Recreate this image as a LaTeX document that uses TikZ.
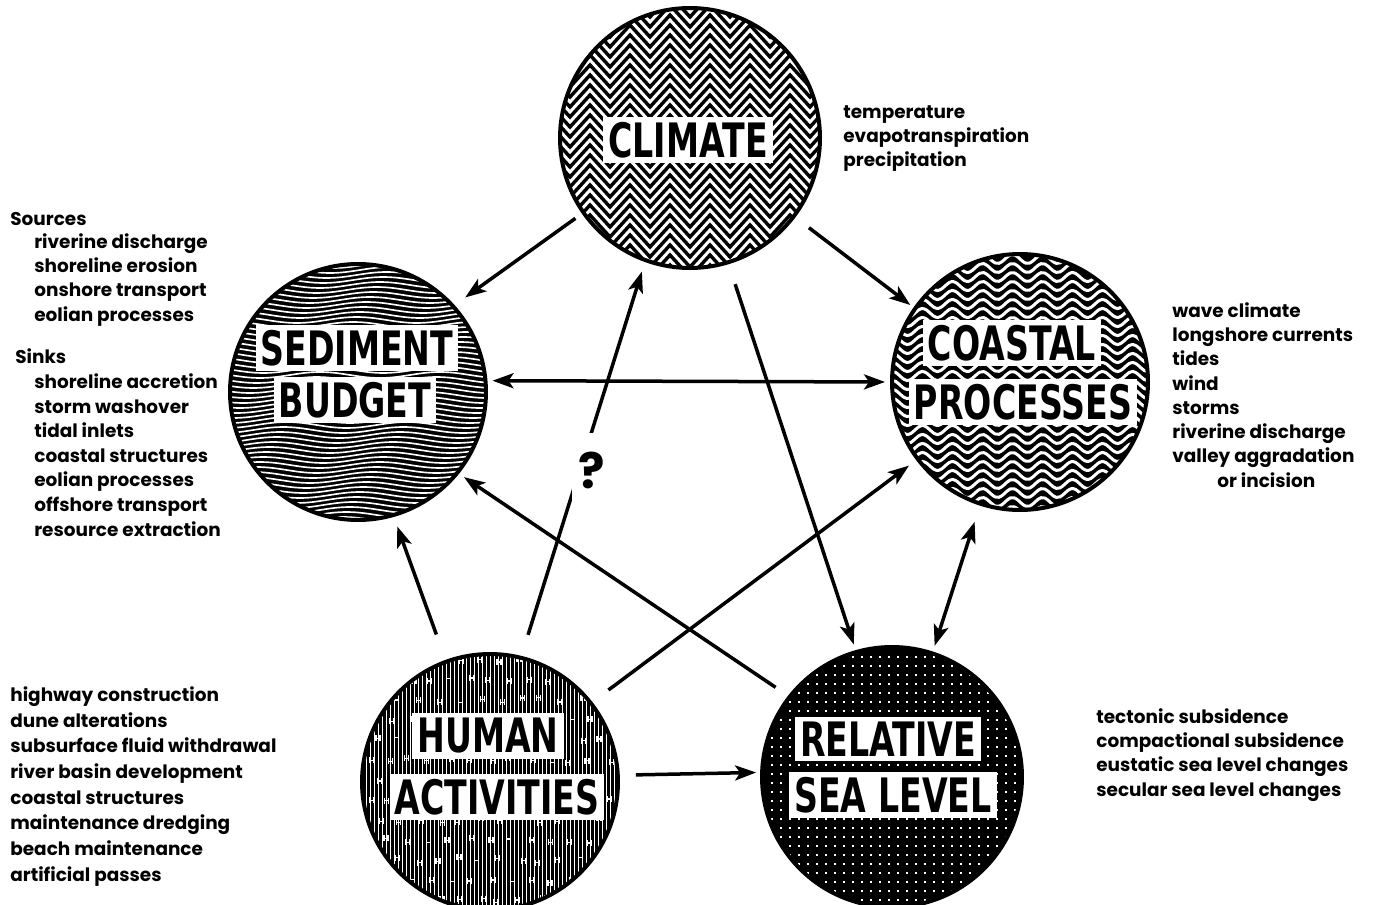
\documentclass[tikz,border=0pt]{standalone}
\usepackage{fontspec}
\setmainfont{Poppins}
\newfontfamily\capsfont{DejaVu Sans}[FakeStretch=0.70]
\usetikzlibrary{arrows.meta}
\tikzset{
    disc/.style={circle, draw, line width=0.08cm, minimum size=5.12cm, inner sep=0},
    title/.style={fill=white, inner xsep=0.1cm, inner ysep=0.1cm, font=\capsfont\bfseries\fontsize{27}{30}\selectfont},
    notes/.style={align=left, anchor=base west, inner sep=0, font=\bfseries\fontsize{10.5}{#1}\selectfont},
    link/.style={line width=0.07cm, -{Stealth[length=0.42cm, width=0.3cm, inset=0.1cm]}},
    twoway/.style={line width=0.07cm, {Stealth[length=0.42cm, width=0.3cm, inset=0.1cm]}-{Stealth[length=0.42cm, width=0.3cm, inset=0.1cm]}},
}
\begin{document}
    \begin{tikzpicture}[x=0.02cm, y=-0.02cm]
        \useasboundingbox (0,0) rectangle (1375,905);
        \begin{scope}
            \clip (690,138) circle (130);
            \fill (690,138) circle (130);
            \foreach \y in {-10,0,...,300}
                \draw[white, line width=0.06cm] (550,\y) \foreach \i in {1,...,8} {-- ++(20,22) -- ++(20,-22)};
        \end{scope}
        \begin{scope}
            \clip (358,392) circle (128);
            \fill (358,392) circle (128);
            \foreach \y in {260,265,...,525}
                \draw[white, line width=0.033cm] plot[domain=228:490, samples=40, smooth] (\x, {\y+3*sin(3*\x+2*\y)});
        \end{scope}
        \begin{scope}
            \clip (1020,382) circle (128);
            \fill (1020,382) circle (128);
            \foreach \y in {250,259,...,520}
                \draw[white, line width=0.06cm] plot[domain=888:1152, samples=70, smooth] (\x, {\y+4.5*sin(12*\x)});
        \end{scope}
        \begin{scope}
            \clip (490,782) circle (128);
            \fill (490,782) circle (128);
            \foreach \x in {362,366,...,620}
                \draw[white, line width=0.01cm] (\x,650) -- (\x,915);
            \pgfmathsetseed{5}
            \foreach \r in {0,...,12}
                \foreach \c in {0,...,13} {
                    \pgfmathsetmacro\mx{360+\c*20+mod(\r,2)*10+8*rnd-4}
                    \pgfmathsetmacro\my{660+\r*20+6*rnd-3}
                    \draw[white, line width=0.025cm] (\mx-2,\my-3) -- ++(0,6) (\mx+2,\my-3) -- ++(0,6) (\mx-2,\my) -- ++(4,0);
                }
        \end{scope}
        \begin{scope}
            \clip (892,777) circle (130);
            \fill (892,777) circle (130);
            \foreach \x in {763,772,...,1022}
                \foreach \y in {648,657,...,907}
                    \fill[white] (\x-1.2,\y-1.2) rectangle ++(2.4,2.4);
        \end{scope}
        \node[disc, minimum size=5.2cm] (cli) at (690,138) {};
        \node[disc] (sed) at (358,392) {};
        \node[disc] (coa) at (1020,382) {};
        \node[disc] (hum) at (490,782) {};
        \node[disc, minimum size=5.2cm] (rsl) at (892,777) {};
        \node[title] (cliname) at (688,140) {CLIMATE};
        \node[title] (sedname1) at (357,348) {SEDIMENT};
        \node[title] (sedname2) at (355,400) {BUDGET};
        \node[title] (coaname1) at (1012,343) {COASTAL};
        \node[title] (coaname2) at (1023,402) {PROCESSES};
        \node[title] (humname1) at (488,736) {HUMAN};
        \node[title] (humname2) at (497,797) {ACTIVITIES};
        \node[title] (rslname1) at (888,739) {RELATIVE};
        \node[title] (rslname2) at (893,795) {SEA LEVEL};
        \draw[link, shorten <=0.16cm, shorten >=0.26cm] (cli.215) -- (sed.42);
        \draw[link, shorten <=0.34cm, shorten >=0.08cm] (cli.323) -- (coa.145);
        \draw[twoway, shorten <=0.1cm, shorten >=0.1cm] (sed.5) -- (coa.180);
        \draw[link, shorten <=0.42cm, shorten >=0.12cm] (cli.287) -- (rsl.106);
        \draw[link, shorten <=0.44cm, shorten >=0.2cm] (hum.76) -- (cli.250);
        \draw[link, shorten <=0.54cm, shorten >=0.2cm] (hum.110) -- (sed.286);
        \draw[link, shorten <=0.4cm, shorten >=0.18cm] (hum.38) -- (coa.217);
        \draw[link, shorten <=0.32cm, shorten >=0.08cm] (hum.3) -- (rsl.178);
        \draw[link, shorten <=0.3cm, shorten >=0.12cm] (rsl.142) -- (sed.321);
        \draw[twoway, shorten <=0.12cm, shorten >=0.34cm] (rsl.72) -- (coa.252);
        \node[fill=white, inner sep=0, minimum width=0.8cm, minimum height=1.5cm, font=\bfseries\fontsize{28}{28}\selectfont] (qm) at (592,470) {?};
        \node[notes=13.9] (clilist) at (843,167) {temperature\\evapotranspiration\\precipitation};
        \node[notes=13.9] (srchead) at (10,226) {Sources};
        \node[notes=13.8] (srclist) at (34,321) {riverine discharge\\shoreline erosion\\onshore transport\\eolian processes};
        \node[notes=13.9] (sinkhead) at (15,363) {Sinks};
        \node[notes=14.0] (sinklist) at (34,536) {shoreline accretion\\storm washover\\tidal inlets\\coastal structures\\eolian processes\\offshore transport\\resource extraction};
        \node[notes=13.8] (coalist) at (1172,487) {wave climate\\longshore currents\\tides\\wind\\storms\\riverine discharge\\valley aggradation\\\hspace*{0.9cm}or incision};
        \node[notes=14.6] (humlist) at (10,881) {highway construction\\dune alterations\\subsurface fluid withdrawal\\river basin development\\coastal structures\\maintenance dredging\\beach maintenance\\artificial passes};
        \node[notes=13.7] (rsllist) at (1096,796) {tectonic subsidence\\compactional subsidence\\eustatic sea level changes\\secular sea level changes};
    \end{tikzpicture}
\end{document}
